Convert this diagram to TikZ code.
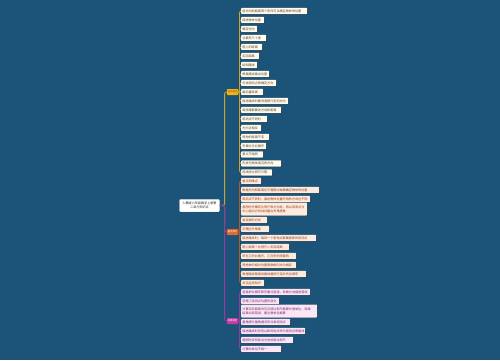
\documentclass[tikz,border=0pt]{standalone}
\usepackage{fontspec}
\newfontfamily\cjk{Noto Sans CJK SC}
\usetikzlibrary{shadows}
\definecolor{bg}{RGB}{27,84,120}
\definecolor{ybr}{RGB}{240,180,20}
\definecolor{yln}{RGB}{200,165,50}
\definecolor{yfill}{RGB}{255,250,238}
\definecolor{ytxt}{RGB}{90,70,40}
\definecolor{obr}{RGB}{225,105,45}
\definecolor{oln}{RGB}{170,95,45}
\definecolor{ofill}{RGB}{253,236,222}
\definecolor{otxt}{RGB}{150,60,30}
\definecolor{pbr}{RGB}{200,60,160}
\definecolor{pln}{RGB}{150,60,160}
\definecolor{pfill}{RGB}{250,230,245}
\definecolor{ptxt}{RGB}{120,40,110}
\newcommand\lf[5]{\node[#1,text width=#2pt] (#3) at (241,#4) {#5};}
\begin{document}
\begin{tikzpicture}[x=1pt,y=-1pt,
  leafbase/.style={anchor=west, rounded corners=0.8pt, inner xsep=1.2pt, inner ysep=0.6pt,
    minimum height=6.4pt, align=left, font=\cjk\fontsize{3.1}{3.9}\selectfont,
    drop shadow={shadow xshift=0.3pt, shadow yshift=-0.4pt, opacity=0.45, fill=black}},
  yleaf/.style={leafbase, fill=yfill, text=ytxt},
  oleaf/.style={leafbase, fill=ofill, text=otxt},
  pleaf/.style={leafbase, fill=pfill, text=ptxt},
  brbase/.style={minimum width=11pt, minimum height=6pt, inner sep=0pt, rounded corners=0.6pt,
    font=\cjk\fontsize{2.3}{2.8}\selectfont},
  rootnode/.style={fill=white, draw=black!15, line width=0.3pt, rounded corners=1pt, align=center,
    minimum width=40pt, minimum height=12.5pt, inner sep=1pt, text=black!85,
    font=\cjk\fontsize{3.1}{4.2}\selectfont},
  maincon/.style={line width=0.9pt, rounded corners=2pt},
  leafcon/.style={line width=0.6pt, rounded corners=1.4pt}]
\fill[bg] (0,0) rectangle (500,360);
\useasboundingbox (0,0) rectangle (500,360);

\node[rootnode] (root) at (199.5,205.5) {人教版六年级数学上册第\\二单元知识点};

\node[brbase, fill=ybr, text=otxt] (yb) at (232.5,92) {知识要点};
\node[brbase, fill=obr, text=white] (ob) at (232.5,232) {重点难点};
\node[brbase, fill=pbr, text=white] (pb) at (232.5,321) {易错题型};

% yellow leaves
\lf{yleaf}{63.6}{y1}{11}{用方向和距离两个条件可以确定物体的位置}
\lf{yleaf}{20.6}{y2}{20}{描述物体位置}
\lf{yleaf}{13.6}{y3}{29}{确定方向}
\lf{yleaf}{22.6}{y4}{38}{北偏东三十度}
\lf{yleaf}{18.6}{y5}{47}{图上的距离}
\lf{yleaf}{15.6}{y6}{56}{实际距离}
\lf{yleaf}{13.6}{y7}{65}{绘制路线}
\lf{yleaf}{25.6}{y8}{74}{根据描述画出位置}
\lf{yleaf}{32.6}{y9}{83}{先找观测点再确定方向}
\lf{yleaf}{19.6}{y10}{92}{最后量距离}
\lf{yleaf}{44.6}{y11}{101}{描述路线时要说清楚行走的方向}
\lf{yleaf}{37.6}{y12}{110}{每段路都要说方向和距离}
\lf{yleaf}{23.6}{y13}{119}{观测点不同时}
\lf{yleaf}{17.6}{y14}{128}{方向正相反}
\lf{yleaf}{25.6}{y15}{137}{两地的距离不变}
\lf{yleaf}{22.6}{y16}{146}{东偏北与北偏东}
\lf{yleaf}{19.6}{y17}{154.5}{意义不相同}
\lf{yleaf}{37.6}{y18}{163.5}{先说与物体接近的方向}
\lf{yleaf}{28.6}{y19}{172.5}{用线段比例尺计算}

% orange leaves
\lf{oleaf}{17.6}{o1}{181}{重点和难点}
\lf{oleaf}{75.6}{o2}{190}{根据方向和距离在平面图中准确确定物体的位置}
\lf{oleaf}{66.6}{o3}{199}{观测点不同时，描述物体位置所用的方向也不同}
\node[oleaf, text width=63.6pt, minimum height=13pt] (o4) at (241,209) {画图时先确定比例尺和方向标，再以观测点为\\中心画出方向线并量出夹角度数};
\lf{oleaf}{23.6}{o5}{220}{易混淆的方向}
\lf{oleaf}{25.6}{o6}{229}{正确区分角度}
\lf{oleaf}{72.6}{o7}{238}{描述路线时，每到一个新地点都要换新的观测点}
\lf{oleaf}{45.6}{o8}{247}{图上距离÷比例尺＝实际距离}
\lf{oleaf}{52.6}{o9}{256}{甲在乙的北偏东，乙在甲的南偏西}
\lf{oleaf}{52.6}{o10}{265}{两物体的相对位置度数相同方向相反}
\lf{oleaf}{62.6}{o11}{274}{根据路线图描述路线要按行走的先后顺序}
\lf{oleaf}{20.6}{o12}{283}{灵活运用知识}

% pink leaves
\lf{pleaf}{66.6}{p1}{292}{容易把北偏东和东偏北混淆，导致方向描述错误}
\lf{pleaf}{35.6}{p2}{301}{忽略了观测点位置的变化}
\node[pleaf, text width=73.6pt, minimum height=13pt] (p3) at (241,311) {计算实际距离时忘记按比例尺换算长度单位，导致\\结果出现错误，要注意单位换算};
\lf{pleaf}{46.6}{p4}{322}{量角度时量角器没有对准观测点}
\lf{pleaf}{61.6}{p5}{331}{描述路线时没有以新的地点作为观测点来描述}
\lf{pleaf}{49.6}{p6}{340}{画图时没有标出方向标和比例尺}
\lf{pleaf}{37.6}{p7}{349}{计算时单位不统一}

% main connectors
\draw[maincon, yln] (root.east) -- ++(5,0) |- (yb.west);
\draw[maincon, oln] (root.east) -- ++(5,0) |- (ob.west);
\draw[maincon, pln] (root.east) -- ++(5,0) |- (pb.west);

% leaf connectors
\foreach \i in {1,...,19} \draw[leafcon, yln] (yb.east) -- ++(1.3,0) |- (y\i.west);
\foreach \i in {1,...,12} \draw[leafcon, oln] (ob.east) -- ++(1.3,0) |- (o\i.west);
\foreach \i in {1,...,7} \draw[leafcon, pln] (pb.east) -- ++(1.3,0) |- (p\i.west);
\end{tikzpicture}
\end{document}
